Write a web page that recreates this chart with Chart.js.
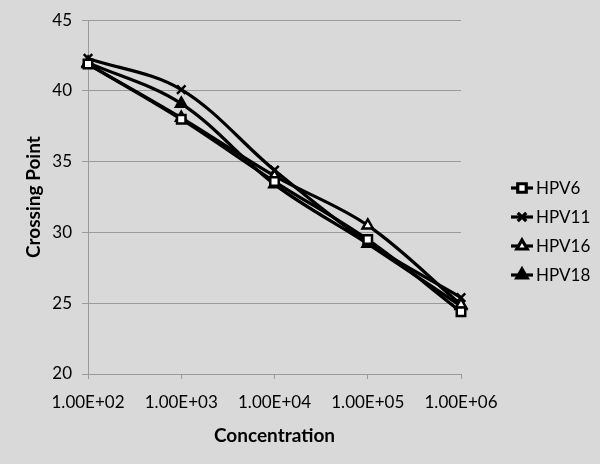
<!DOCTYPE html>
<html>
<head>
<meta charset="utf-8">
<script src="https://cdn.jsdelivr.net/npm/chart.js@4/dist/chart.umd.min.js"></script>
<style>
  html, body { margin: 0; padding: 0; background: #d9d9d9; }
  #wrap { width: 600px; height: 464px; }
</style>
</head>
<body>
<div id="wrap"><canvas id="qpcr-chart" width="600" height="464"></canvas></div>
<script>
const concentrations = ['1.00E+02', '1.00E+03', '1.00E+04', '1.00E+05', '1.00E+06'];
const hpv6 = [41.9, 38.0, 33.6, 29.5, 24.4];
const hpv11 = [42.3, 40.1, 34.4, 29.3, 25.4];
const hpv16 = [41.9, 38.1, 34.0, 30.5, 24.9];
const hpv18 = [42.0, 39.1, 33.4, 29.2, 24.8];
const yTicks = [20, 25, 30, 35, 40, 45];

const font = 'Lato, "Open Sans", sans-serif';
const gridGrey = '#9a9a9a';

function series(label, data, pointStyle, fill, radius) {
  return {
    label, data, pointStyle,
    borderColor: '#000', borderWidth: 3.2, tension: 0.35,
    pointRadius: radius, pointBorderWidth: 2.5,
    pointBackgroundColor: fill, pointBorderColor: '#000',
  };
}

// Excel-style legend: short line with the marker on it
const sideLegend = {
  id: 'sideLegend',
  afterDraw(chart) {
    const ctx = chart.ctx;
    chart.data.datasets.forEach((ds, i) => {
      const y = 188 + i * 29;
      ctx.save();
      ctx.strokeStyle = '#000';
      ctx.lineWidth = 3.2;
      ctx.beginPath();
      ctx.moveTo(511, y);
      ctx.lineTo(533, y);
      ctx.stroke();
      ctx.fillStyle = ds.pointBackgroundColor;
      Chart.helpers.drawPoint(ctx, { pointStyle: ds.pointStyle, radius: ds.pointRadius, rotation: 0, borderWidth: ds.pointBorderWidth }, 522, y);
      ctx.fillStyle = '#000';
      ctx.font = '17px ' + font;
      ctx.textBaseline = 'middle';
      ctx.fillText(ds.label, 536, y + 1);
      ctx.restore();
    });
  }
};

new Chart(document.getElementById('qpcr-chart'), {
  type: 'line',
  data: {
    labels: concentrations,
    datasets: [
      series('HPV6', hpv6, 'rect', '#fff', 6),
      series('HPV11', hpv11, 'crossRot', '#000', 6),
      series('HPV16', hpv16, 'triangle', '#fff', 6),
      series('HPV18', hpv18, 'triangle', '#000', 6),
    ],
  },
  options: {
    responsive: false,
    animation: false,
    layout: { padding: { top: 20, right: 139, left: 22, bottom: 0 } },
    plugins: { legend: { display: false }, tooltip: { enabled: false } },
    scales: {
      x: {
        offset: false,
        afterFit: s => { s.height = 90; },
        grid: { drawOnChartArea: false, drawTicks: true, tickLength: 5, color: gridGrey },
        border: { color: gridGrey, width: 1 },
        ticks: { color: '#000', font: { family: font, size: 17 }, padding: 13, maxRotation: 0, autoSkip: false },
        title: { display: true, text: 'Concentration', color: '#000', font: { family: font, size: 19, weight: 'bold' }, padding: { top: 0, bottom: 17 } },
      },
      y: {
        min: 20, max: 45,
        afterFit: s => { s.width = 66; },
        afterBuildTicks: s => { s.ticks = yTicks.map(v => ({ value: v })); },
        grid: { color: gridGrey, tickLength: 6 },
        border: { color: gridGrey, width: 1 },
        ticks: { color: '#000', font: { family: font, size: 17 }, padding: 10 },
        title: { display: true, text: 'Crossing Point', color: '#000', font: { family: font, size: 19, weight: 'bold' }, padding: 0 },
      },
    },
  },
  plugins: [sideLegend],
});
</script>
</body>
</html>
